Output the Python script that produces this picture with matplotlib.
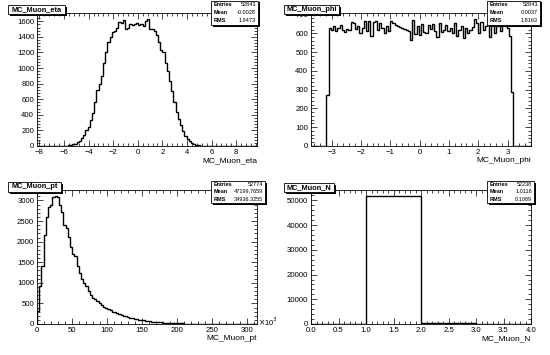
import numpy as np
import matplotlib.pyplot as plt
from matplotlib.patches import Rectangle
from matplotlib.ticker import MultipleLocator

plt.rcParams['font.family'] = ['Liberation Sans', 'DejaVu Sans']

W, H = 550, 355

# --- data (bin contents) ---
eta_edges = np.linspace(-8.2, 9.7, 101)
eta_counts = [0] * 12 + [
    2, 4, 8, 12, 20, 32, 45, 65, 100, 140, 200, 240, 330, 420, 560,
    720, 800, 900, 1060, 1200, 1330, 1400, 1460, 1470, 1520, 1590, 1580, 1620,
    1500, 1510, 1560, 1550, 1570, 1575, 1550, 1565, 1545, 1600, 1625, 1500,
    1505, 1470, 1420, 1330, 1230, 1210, 1060, 960, 830, 700, 570, 440, 350,
    270, 190, 130, 90, 60, 38, 24, 15, 9, 5, 3, 2, 1] + [0] * 22

phi_edges = np.linspace(-3.7, 3.8, 101)
phi_counts = [0] * 7 + [270] + [
    630, 620, 640, 615, 630, 645, 620, 610, 625, 620, 660, 655, 625, 640,
    600, 630, 665, 615, 665, 585, 660, 665, 620, 655, 630, 600, 640, 615,
    665, 655, 645, 640, 635, 630, 625, 620, 615, 565, 670, 595, 640, 590,
    650, 610, 600, 645, 625, 650, 615, 580, 655, 605, 620, 645, 615, 630,
    600, 655, 585, 620, 640, 575, 630, 600, 620, 635, 675, 655, 600, 660,
    620, 640, 645, 580, 655, 600, 640, 660, 615, 645, 640, 630, 585] + [290] + [0] * 8

pt_edges = np.linspace(0, 314, 101)   # x10^3
pt_counts = [
    320, 920, 1400, 2150, 2600, 2830, 2880, 3090, 3100, 3090, 2890, 2730,
    2400, 2330, 2120, 1880, 1700, 1640, 1400, 1240, 1100, 1000, 920, 800,
    700, 640, 600, 555, 500, 460, 420, 390, 360, 330, 300, 280,
    260, 240, 220, 200, 185, 170, 155, 140, 128, 116, 105, 95, 86, 78, 70,
    63, 57, 51, 46, 42, 38, 34, 31, 28, 25, 22, 20, 18, 16, 14, 13, 12, 11,
    10, 9, 8, 7, 6, 6, 5, 5, 4, 4, 3, 3, 3, 2, 2, 2, 2, 1, 1, 1, 1, 1, 1,
    0, 1, 0, 0, 1, 0, 0, 0]

n_edges = [0, 1, 2, 3, 4]
n_counts = [0, 51630, 600, 8]

stats_eta = [("Entries", "52843"), ("Mean", "-0.0028"), ("RMS", "1.9473")]
stats_phi = [("Entries", "52843"), ("Mean", "0.0037"), ("RMS", "1.8163")]
stats_pt = [("Entries", "52774"), ("Mean", "47199.7659"), ("RMS", "34936.3255")]
stats_n = [("Entries", "52238"), ("Mean", "1.0116"), ("RMS", "0.1089")]

fig = plt.figure(figsize=(5.5, 3.55), dpi=100)


def px_box(x0, y0, x1, y1):
    """Box with a drop shadow, in figure pixel coords (origin top-left)."""
    fig.add_artist(Rectangle(((x0 + 1.5) / W, 1 - (y1 + 1.5) / H), (x1 - x0) / W,
                             (y1 - y0) / H, transform=fig.transFigure,
                             facecolor='black', lw=0))
    fig.add_artist(Rectangle((x0 / W, 1 - y1 / H), (x1 - x0) / W, (y1 - y0) / H,
                             transform=fig.transFigure, facecolor='white',
                             edgecolor='black', lw=0.6))


def panel(frame, counts, edges, xmaj, xmin, ymaj, ymin, xlabel, title, tbox, stats, sbox):
    x0, y0, x1, y1 = frame
    ax = fig.add_axes([x0 / W, 1 - y1 / H, (x1 - x0) / W, (y1 - y0) / H])
    ax.stairs(counts, edges, color='black', lw=1.0, baseline=0)
    ax.set_xlim(edges[0], edges[-1])
    ax.set_ylim(0, max(counts) * 1.05)
    ax.xaxis.set_major_locator(MultipleLocator(xmaj))
    ax.xaxis.set_minor_locator(MultipleLocator(xmin))
    ax.yaxis.set_major_locator(MultipleLocator(ymaj))
    ax.yaxis.set_minor_locator(MultipleLocator(ymin))
    ax.tick_params(which='both', direction='in', top=True, right=True,
                   labelsize=5.6, pad=2, width=0.5)
    ax.tick_params(which='major', length=4)
    ax.tick_params(which='minor', length=2)
    for s in ax.spines.values():
        s.set_linewidth(0.6)
    ax.annotate(xlabel, xy=(1, 0), xycoords='axes fraction', xytext=(0, -15),
                textcoords='offset pixels', ha='right', va='center', fontsize=6)

    bx0, by0, bx1, by1 = tbox
    px_box(bx0, by0, bx1, by1)
    fig.text((bx0 + bx1) / 2 / W, 1 - (by0 + by1) / 2 / H, title, ha='center',
             va='center', fontsize=5.3, fontweight='bold')

    sx0, sy0, sx1, sy1 = sbox
    px_box(sx0, sy0, sx1, sy1)
    rh = (sy1 - sy0) / len(stats)
    for k, (name, val) in enumerate(stats):
        yy = 1 - (sy0 + rh * (k + 0.5)) / H
        fig.text((sx0 + 3) / W, yy, name, ha='left', va='center', fontsize=4,
                 fontweight='bold')
        fig.text((sx1 - 2) / W, yy, val, ha='right', va='center', fontsize=4)
    return ax


panel((37, 13, 257, 146), eta_counts, eta_edges, 2, 0.4, 200, 40,
      "MC_Muon_eta", "MC_Muon_eta", (8, 5, 65, 14), stats_eta, (211, 1, 258, 25))
panel((311, 13, 531, 146), phi_counts, phi_edges, 1, 0.2, 100, 20,
      "MC_Muon_phi", "MC_Muon_phi", (284, 5, 339, 14), stats_phi, (487, 1, 540, 25))
ax_pt = panel((37, 190, 257, 324), pt_counts, pt_edges, 50, 10, 500, 100,
              "MC_Muon_pt", "MC_Muon_pt", (8, 182, 61, 192), stats_pt, (211, 181, 265, 203))
ax_pt.annotate(r"$\times$10$^{3}$", xy=(1, 0), xycoords='axes fraction', xytext=(1, 2),
               textcoords='offset pixels', ha='left', va='center', fontsize=5.5)
panel((311, 190, 531, 324), n_counts, n_edges, 0.5, 0.1, 10000, 2000,
      "MC_Muon_N", "MC_Muon_N", (284, 183, 334, 192), stats_n, (487, 181, 534, 203))

fig.savefig("out.png", dpi=100, facecolor='white')
